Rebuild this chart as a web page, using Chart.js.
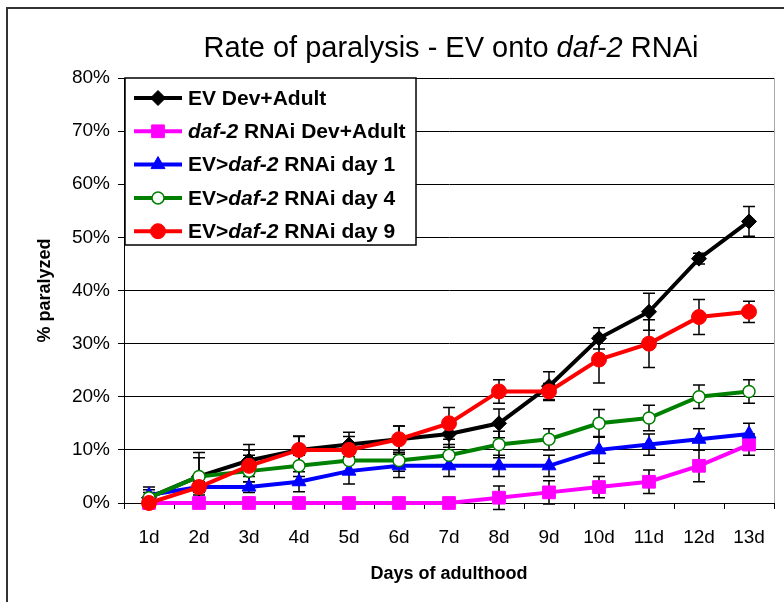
<!DOCTYPE html>
<html>
<head>
<meta charset="utf-8">
<script src="https://cdn.jsdelivr.net/npm/chart.js@4"></script>
<style>
  html, body { margin: 0; padding: 0; background: #fff; }
  #wrap { width: 784px; height: 602px; position: relative; }
</style>
</head>
<body>
<div id="wrap"><canvas id="chart" width="784" height="602"></canvas></div>
<script>
// values (percent paralyzed)
const days = ['1d', '2d', '3d', '4d', '5d', '6d', '7d', '8d', '9d', '10d', '11d', '12d', '13d'];
const evDevAdult = [1, 5, 8, 10, 11, 12, 13, 15, 22, 31, 36, 46, 53];
const daf2DevAdult = [0, 0, 0, 0, 0, 0, 0, 1, 2, 3, 4, 7, 11];
const evDaf2Day1 = [1.5, 3, 3, 4, 6, 7, 7, 7, 7, 10, 11, 12, 13];
const evDaf2Day4 = [1, 5, 6, 7, 8, 8, 9, 11, 12, 15, 16, 20, 21];
const evDaf2Day9 = [0, 3, 7, 10, 10, 12, 15, 21, 21, 27, 30, 35, 36];

// error bar half-lengths
const evDevAdultErr = [2, 4.5, 3, 2.6, 2.3, 2.5, 2.5, 2.7, 2.7, 2, 3.5, 1, 2.8];
const daf2DevAdultErr = [0.5, 0, 0, 0, 0, 0, 0, 2.2, 2.2, 2, 2.2, 3, 2];
const evDaf2Day1Err = [1, 1, 1, 1.9, 2.4, 2.2, 2, 2, 2, 2.5, 2, 2, 2];
const evDaf2Day4Err = [1, 3.5, 3, 2, 2, 2, 2, 2.5, 2, 2.6, 2.4, 2.2, 2.2];
const evDaf2Day9Err = [1, 2, 3, 2.5, 2.5, 2.5, 3, 2.2, 1.5, 4.4, 4.5, 3.3, 2];

const yTicks = [0, 10, 20, 30, 40, 50, 60, 70, 80];

const FONT = '"Liberation Sans", Arial, sans-serif';

// legend rows: text pieces [text, italic]
const legendRows = [
  [['EV Dev+Adult', false]],
  [['daf-2', true], [' RNAi Dev+Adult', false]],
  [['EV>', false], ['daf-2', true], [' RNAi day 1', false]],
  [['EV>', false], ['daf-2', true], [' RNAi day 4', false]],
  [['EV>', false], ['daf-2', true], [' RNAi day 9', false]]
];

function drawPieces(ctx, pieces, x, y, size, bold) {
  let cx = x;
  pieces.forEach(([t, it]) => {
    ctx.font = (it ? 'italic ' : '') + (bold ? 'bold ' : '') + size + 'px ' + FONT;
    ctx.fillText(t, cx, y);
    cx += ctx.measureText(t).width;
  });
}

function piecesWidth(ctx, pieces, size, bold) {
  let w = 0;
  pieces.forEach(([t, it]) => {
    ctx.font = (it ? 'italic ' : '') + (bold ? 'bold ' : '') + size + 'px ' + FONT;
    w += ctx.measureText(t).width;
  });
  return w;
}

const errorBars = {
  id: 'errorBars',
  beforeDatasetsDraw(chart) {
    const ctx = chart.ctx;
    const y = chart.scales.y;
    ctx.save();
    ctx.strokeStyle = '#000';
    ctx.lineWidth = 1.5;
    chart.data.datasets.forEach((ds, i) => {
      const meta = chart.getDatasetMeta(i);
      meta.data.forEach((pt, j) => {
        const e = ds.err[j];
        if (!e) return;
        const top = y.getPixelForValue(ds.data[j] + e);
        const bot = y.getPixelForValue(ds.data[j] - e);
        ctx.beginPath();
        ctx.moveTo(pt.x, top); ctx.lineTo(pt.x, bot);
        ctx.moveTo(pt.x - 6, top); ctx.lineTo(pt.x + 6, top);
        ctx.moveTo(pt.x - 6, bot); ctx.lineTo(pt.x + 6, bot);
        ctx.stroke();
      });
    });
    ctx.restore();
  }
};

function drawMarker(ctx, style, r, x, y) {
  ctx.beginPath();
  if (style === 'rectRot') {
    ctx.moveTo(x, y - r); ctx.lineTo(x + r, y); ctx.lineTo(x, y + r); ctx.lineTo(x - r, y); ctx.closePath();
  } else if (style === 'rect') {
    const s = r * Math.SQRT1_2;
    ctx.rect(x - s, y - s, 2 * s, 2 * s);
  } else if (style === 'triangle') {
    ctx.moveTo(x, y - r); ctx.lineTo(x + r * 0.87, y + r * 0.5); ctx.lineTo(x - r * 0.87, y + r * 0.5); ctx.closePath();
  } else {
    ctx.arc(x, y, r, 0, Math.PI * 2);
  }
  ctx.fill();
  ctx.stroke();
}

const decorations = {
  id: 'decorations',
  afterDraw(chart) {
    const ctx = chart.ctx;
    const a = chart.chartArea;
    ctx.save();
    // outer frame
    ctx.strokeStyle = '#333';
    ctx.lineWidth = 2;
    ctx.strokeRect(7, 8, 820, 640);
    // right border of plot area
    ctx.strokeStyle = '#aaa';
    ctx.lineWidth = 1;
    ctx.beginPath();
    ctx.moveTo(a.right + 0.5, a.top);
    ctx.lineTo(a.right + 0.5, a.bottom);
    ctx.stroke();

    // title
    const title = [['Rate of paralysis - EV onto ', false], ['daf-2', true], [' RNAi', false]];
    ctx.fillStyle = '#000';
    ctx.textBaseline = 'alphabetic';
    const tw = piecesWidth(ctx, title, 29, false);
    drawPieces(ctx, title, 451 - tw / 2, 57, 29, false);

    // legend box
    const lx = 125, ly = 78, lw = 291, lh = 167;
    ctx.fillStyle = '#fff';
    ctx.fillRect(lx, ly, lw, lh);
    ctx.strokeStyle = '#000';
    ctx.lineWidth = 1.5;
    ctx.strokeRect(lx, ly, lw, lh);
    ctx.textBaseline = 'middle';
    chart.data.datasets.forEach((ds, i) => {
      const ry = 98 + i * 33.3;
      ctx.strokeStyle = ds.borderColor;
      ctx.lineWidth = 4;
      ctx.beginPath();
      ctx.moveTo(134, ry); ctx.lineTo(182, ry);
      ctx.stroke();
      ctx.fillStyle = ds.pointBackgroundColor;
      ctx.strokeStyle = ds.pointBorderColor;
      ctx.lineWidth = ds.pointBorderWidth;
      drawMarker(ctx, ds.pointStyle, ds.pointRadius, 158, ry);
      ctx.fillStyle = '#000';
      drawPieces(ctx, legendRows[i], 188, ry + 1, 21, true);
    });
    ctx.restore();
  }
};

function series(label, data, err, color, style, radius, fill, order) {
  return {
    label, data, err, order,
    borderColor: color,
    borderWidth: 4,
    pointStyle: style,
    pointRadius: radius,
    pointHoverRadius: radius,
    pointBackgroundColor: fill,
    pointBorderColor: color,
    pointBorderWidth: style === 'circle' && fill === '#fff' ? 1.5 : 1,
    tension: 0,
    clip: false
  };
}

new Chart(document.getElementById('chart'), {
  type: 'line',
  data: {
    labels: days,
    datasets: [
      series('EV Dev+Adult', evDevAdult, evDevAdultErr, '#000', 'rectRot', 7.5, '#000', 4),
      series('daf-2 RNAi Dev+Adult', daf2DevAdult, daf2DevAdultErr, '#ff00ff', 'rect', 9, '#ff00ff', 3),
      series('EV>daf-2 RNAi day 1', evDaf2Day1, evDaf2Day1Err, '#0000ff', 'triangle', 8, '#0000ff', 2),
      series('EV>daf-2 RNAi day 4', evDaf2Day4, evDaf2Day4Err, '#008000', 'circle', 6, '#fff', 1),
      series('EV>daf-2 RNAi day 9', evDaf2Day9, evDaf2Day9Err, '#ff0000', 'circle', 7.5, '#ff0000', 0)
    ]
  },
  options: {
    responsive: false,
    animation: false,
    layout: { padding: { left: 0, top: 78, right: 9, bottom: 0 } },
    plugins: {
      legend: { display: false },
      title: { display: false },
      tooltip: { enabled: false }
    },
    scales: {
      x: {
        offset: true,
        afterFit: s => { s.height = 99; },
        grid: { offset: true, drawOnChartArea: false, drawTicks: true, tickLength: 6, color: '#000', lineWidth: 1 },
        border: { color: '#000', width: 1 },
        ticks: { color: '#000', padding: 17, maxRotation: 0, autoSkip: false, font: { family: FONT, size: 19 } },
        title: { display: true, text: 'Days of adulthood', color: '#000', padding: { top: 0, bottom: 17 }, font: { family: FONT, size: 18, weight: 'bold' } }
      },
      y: {
        min: 0, max: 80,
        afterFit: s => { s.width = 124; },
        afterBuildTicks: s => { s.ticks = yTicks.map(v => ({ value: v })); },
        grid: { color: '#000', lineWidth: 1, drawTicks: true, tickLength: 6 },
        border: { color: '#000', width: 1 },
        ticks: { color: '#000', padding: 8, font: { family: FONT, size: 19 }, callback: v => v + '%' },
        title: { display: true, text: '% paralyzed', color: '#000', padding: { top: 34, bottom: 0 }, font: { family: FONT, size: 18, weight: 'bold' } }
      }
    }
  },
  plugins: [errorBars, decorations]
});
</script>
</body>
</html>
